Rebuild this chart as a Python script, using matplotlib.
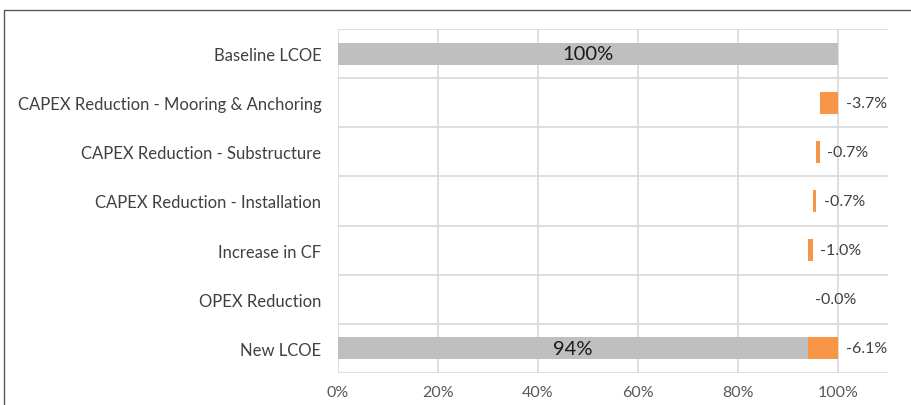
import matplotlib.pyplot as plt
from matplotlib.patches import Rectangle

# LCOE waterfall data (percent of baseline)
categories = ["Baseline LCOE", "CAPEX Reduction - Mooring & Anchoring",
              "CAPEX Reduction - Substructure", "CAPEX Reduction - Installation",
              "Increase in CF", "OPEX Reduction", "New LCOE"]
baseline = 100.0
reductions = [3.7, 0.7, 0.7, 1.0, 0.0]
xticks = [0, 20, 40, 60, 80, 100]

plt.rcParams['font.family'] = ['Lato', 'DejaVu Sans']

fig = plt.figure(figsize=(9.11, 4.06), dpi=100)
ax = fig.add_axes([0.371, 0.079, 0.604, 0.847])

gray = '#BFBFBF'
orange = '#F79646'
bar_h = 0.45

# baseline bar
ax.barh(0, baseline, height=bar_h, color=gray, zorder=3)
ax.text(baseline / 2, 0, f"{baseline:.0f}%", ha='center', va='center',
        fontsize=14.5, color='#1a1a1a', zorder=4)

# step bars, each hanging from the running total
running = baseline
for i, r in enumerate(reductions, start=1):
    start = running - r
    w = max(r, 0.6) if r > 0 else 0
    if w > 0:
        ax.barh(i, w, left=running - w, height=bar_h, color=orange, zorder=3)
    ax.text(running + 1.5, i, f"-{r:.1f}%", ha='left', va='center',
            fontsize=11.5, color='#404040', zorder=4)
    running = start

# new LCOE with total reduction
total = sum(reductions)
new = baseline - total
n = len(categories) - 1
ax.barh(n, new, height=bar_h, color=gray, zorder=3)
ax.barh(n, total, left=new, height=bar_h, color=orange, zorder=3)
ax.text(new / 2, n, f"{new:.0f}%", ha='center', va='center',
        fontsize=14.5, color='#1a1a1a', zorder=4)
ax.text(baseline + 1.6, n, f"-{total:.1f}%", ha='left', va='center',
        fontsize=11.5, color='#404040', zorder=4)

ax.set_xlim(0, 110)
ax.set_ylim(n + 0.5, -0.5)
ax.set_yticks(range(len(categories)))
ax.set_yticklabels(categories, fontsize=12, color='#404040')
ax.set_xticks(xticks)
ax.set_xticklabels([f"{t}%" for t in xticks], fontsize=11.5, color='#595959')
ax.tick_params(length=0, pad=12)
ax.tick_params(axis='x', pad=9)

# grid: vertical at ticks, horizontal between categories
for t in xticks:
    ax.axvline(t, color='#D9D9D9', lw=1.2, zorder=1)
for k in range(len(categories) + 1):
    ax.axhline(k - 0.5, color='#D9D9D9', lw=1.2, zorder=1)
for s in ax.spines.values():
    s.set_visible(False)

# outer frame
fig.patches.append(Rectangle((4 / 911, -0.1), 1.2, 1 - 11 / 406 + 0.1,
                             transform=fig.transFigure, fill=False,
                             edgecolor='#595959', lw=1))

fig.savefig('out.png', dpi=100)
